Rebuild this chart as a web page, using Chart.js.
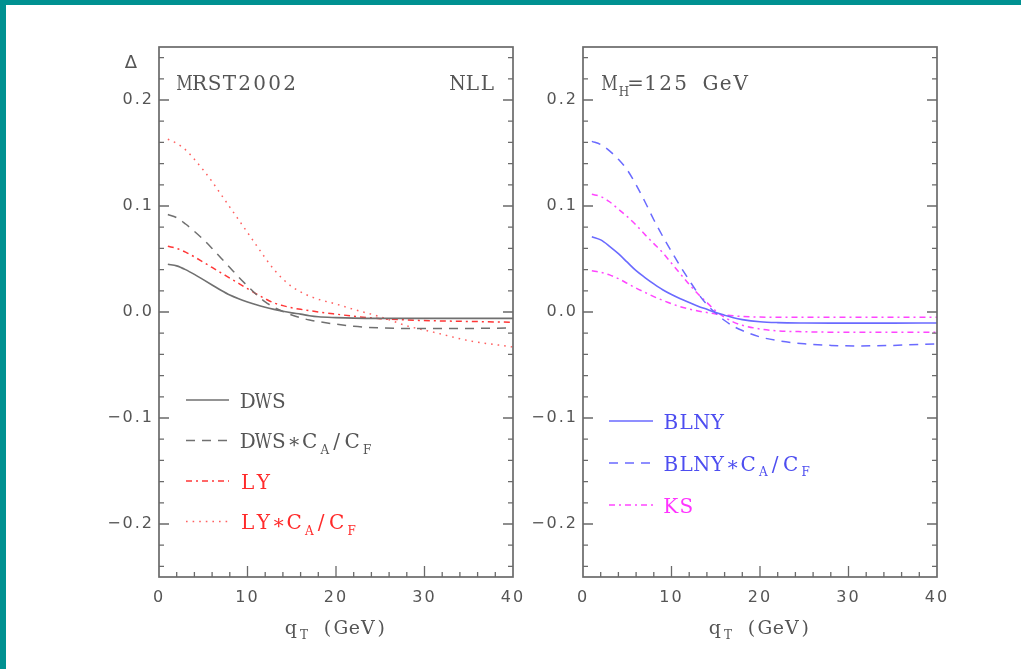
<!DOCTYPE html>
<html>
<head>
<meta charset="utf-8">
<script src="https://cdn.jsdelivr.net/npm/chart.js@4.4.1/dist/chart.umd.min.js"></script>
<style>
  html, body { margin: 0; padding: 0; background: #fff; }
  body { width: 1021px; height: 669px; position: relative; overflow: hidden; }
  .edge { position: absolute; left: 0; top: 0; width: 1021px; height: 669px; box-sizing: border-box;
          border-top: 5px solid #009191; border-left: 6px solid #009191; pointer-events: none; z-index: 2; }
  canvas { position: absolute; top: 0; }
  #left { left: 0; }
  #right { left: 527px; }
</style>
</head>
<body>
<div class="edge"></div>
<canvas id="left" width="527" height="669"></canvas>
<canvas id="right" width="494" height="669"></canvas>
<script>
// q_T sampling points (GeV), shared by every curve
const qT = [1, 2, 3, 4, 5, 6, 7, 8, 9, 10, 11, 12, 13, 14, 15, 16, 17, 18, 20, 22, 25, 28, 31, 35, 40];

// left panel: MRST2002, NLL
const dws      = [0.045, 0.0435, 0.040, 0.0355, 0.0305, 0.0255, 0.0205, 0.016, 0.0125, 0.0095, 0.0068, 0.0045, 0.0025, 0.0007, -0.0008, -0.002, -0.0035, -0.0045, -0.0053, -0.0058, -0.006, -0.006, -0.006, -0.006, -0.006];
const dwsCaCf  = [0.092, 0.089, 0.083, 0.076, 0.0685, 0.060, 0.051, 0.042, 0.033, 0.0245, 0.0165, 0.0095, 0.0045, 0.0005, -0.0028, -0.0055, -0.0075, -0.009, -0.0115, -0.0135, -0.015, -0.0155, -0.0155, -0.0155, -0.015];
const ly       = [0.062, 0.060, 0.0565, 0.052, 0.047, 0.042, 0.037, 0.032, 0.027, 0.022, 0.017, 0.0125, 0.0085, 0.006, 0.004, 0.0025, 0.0013, 0.0001, -0.002, -0.004, -0.0063, -0.0075, -0.0083, -0.0089, -0.0097];
const lyCaCf   = [0.163, 0.159, 0.153, 0.144, 0.134, 0.123, 0.111, 0.099, 0.087, 0.075, 0.063, 0.051, 0.040, 0.031, 0.024, 0.019, 0.015, 0.012, 0.0075, 0.0025, -0.0045, -0.013, -0.019, -0.027, -0.033];

// right panel: M_H = 125 GeV
const blny     = [0.071, 0.068, 0.062, 0.055, 0.047, 0.039, 0.0325, 0.0265, 0.021, 0.0165, 0.0125, 0.009, 0.0055, 0.0025, -0.0005, -0.003, -0.0055, -0.0072, -0.0092, -0.010, -0.0104, -0.0105, -0.0105, -0.0105, -0.0104];
const blnyCaCf = [0.161, 0.158, 0.152, 0.144, 0.134, 0.120, 0.104, 0.087, 0.0715, 0.057, 0.043, 0.030, 0.0175, 0.007, -0.001, -0.008, -0.0135, -0.0175, -0.0235, -0.027, -0.030, -0.0315, -0.032, -0.0315, -0.030];
const ks       = [0.039, 0.0375, 0.035, 0.0315, 0.027, 0.0225, 0.0185, 0.0145, 0.011, 0.0078, 0.005, 0.0028, 0.001, -0.0005, -0.0018, -0.0028, -0.0036, -0.0042, -0.0048, -0.005, -0.005, -0.005, -0.005, -0.005, -0.005];
const ksCaCf   = [0.111, 0.109, 0.104, 0.097, 0.090, 0.082, 0.073, 0.0645, 0.056, 0.046, 0.036, 0.026, 0.017, 0.009, 0.001, -0.005, -0.0095, -0.0125, -0.016, -0.0178, -0.0186, -0.019, -0.019, -0.019, -0.019];

const xTicks = [0, 10, 20, 30, 40];
const yTicks = [-0.2, -0.1, 0.0, 0.1, 0.2];

// minor tick values every 0.02 between the axis ends
const yMinor = [];
for (let k = -12; k <= 12; k++) yMinor.push(Math.round(k * 2) / 100);

const SERIF = "'DejaVu Serif', serif";
const AXIS = '#6a6a6a';
const TEXT = '#555555';
const GRAY = '#707070';
const RED = '#ff3636';
const RED_DOT = '#ff6060';
const BLUE = '#6a6aff';
const MAGENTA = '#ff45ff';

const SOLID = [];
const DASH = [9, 7];
const DASHDOT = [6, 4, 2, 4];
const DOT = [1.6, 5];

const pts = ys => qT.map((x, i) => ({ x, y: ys[i] }));
const line = (ys, color, dash, width) => ({
    data: pts(ys), borderColor: color, borderDash: dash, borderWidth: width || 1.5, fill: false
});

// typewriter-style text: every glyph sits in a fixed-width cell;
// strings are normal text, one-element arrays are subscripts
function drawRich(ctx, parts, x, y, size, pitch, align) {
    const items = [];
    parts.forEach(p => {
        const sub = Array.isArray(p);
        for (const ch of (sub ? p[0] : p)) items.push({ ch, sub });
    });
    const cell = it => it.sub ? pitch * 0.74 : pitch;
    const total = items.reduce((w, it) => w + cell(it), 0);
    let cx = align === 'right' ? x - total : align === 'center' ? x - total / 2 : x;
    ctx.letterSpacing = '0px';
    ctx.textAlign = 'center';
    ctx.textBaseline = 'alphabetic';
    items.forEach(it => {
        const w = cell(it);
        if (it.ch !== ' ') {
            ctx.font = `${it.sub ? Math.round(size * 0.62) : size}px ${SERIF}`;
            const gw = ctx.measureText(it.ch).width;
            const sx = gw > w * 1.1 ? (w * 1.1) / gw : 1;
            ctx.save();
            ctx.translate(cx + w / 2 + (it.sub ? 1.5 : 0), it.sub ? y + size * 0.28 : y);
            ctx.scale(sx, 1);
            ctx.fillText(it.ch, 0, 0);
            ctx.restore();
        }
        cx += w;
    });
}

const isMajorY = v => yTicks.some(t => Math.abs(t - v) < 1e-6);
const fmtY = v => {
    const r = Math.round(v * 10) / 10;
    return r < 0 ? '\u2212' + Math.abs(r).toFixed(1) : r.toFixed(1);
};

const panelPlugin = {
    id: 'panel',
    beforeDraw(chart) {
        chart.ctx.letterSpacing = '2px';
    },
    afterDatasetsDraw(chart, args, opts) {
        const { ctx, chartArea: a, scales: { x, y } } = chart;
        ctx.save();
        ctx.setLineDash([]);
        ctx.strokeStyle = AXIS;
        ctx.lineWidth = 1.7;
        ctx.strokeRect(a.left, a.top, a.width, a.height);

        // inward tick marks, long at labelled values
        ctx.lineWidth = 1.3;
        ctx.beginPath();
        x.ticks.forEach(t => {
            if (t.value <= x.min || t.value >= x.max) return;
            const px = x.getPixelForValue(t.value);
            const len = xTicks.includes(t.value) ? 11 : 5;
            ctx.moveTo(px, a.bottom);
            ctx.lineTo(px, a.bottom - len);
        });
        y.ticks.forEach(t => {
            if (t.value <= y.min + 1e-9 || t.value >= y.max - 1e-9) return;
            const py = y.getPixelForValue(t.value);
            const len = isMajorY(t.value) ? 10 : 5;
            ctx.moveTo(a.left, py);
            ctx.lineTo(a.left + len, py);
            ctx.moveTo(a.right, py);
            ctx.lineTo(a.right - len, py);
        });
        ctx.stroke();

        // notes in the upper corners
        ctx.fillStyle = TEXT;
        (opts.notes || []).forEach(n => drawRich(ctx, n.parts, n.right ? a.right - n.dx : a.left + n.dx, a.top + 43, 20, 15, n.right ? 'right' : 'left'));

        if (opts.delta) {
            ctx.letterSpacing = '0px';
            ctx.font = "18px 'DejaVu Sans'";
            ctx.textAlign = 'center';
            ctx.textBaseline = 'alphabetic';
            ctx.fillText('\u0394', a.left - 28, a.top + 21);
        }

        // axis title q_T (GeV)
        ctx.fillStyle = TEXT;
        drawRich(ctx, ['q', ['T'], ' (GeV)'], (a.left + a.right) / 2, 634, 19, 13.4, 'center');

        // legend
        const lg = opts.legend;
        lg.items.forEach((it, i) => {
            const yy = a.top + lg.y0 + i * lg.dy;
            ctx.strokeStyle = it.color;
            ctx.lineWidth = it.width || 1.5;
            ctx.setLineDash(it.dash);
            ctx.beginPath();
            ctx.moveTo(a.left + lg.x0, yy);
            ctx.lineTo(a.left + lg.x1, yy);
            ctx.stroke();
            ctx.fillStyle = it.text;
            drawRich(ctx, it.parts, a.left + lg.tx, yy + 7.5, 20, 15.5, 'left');
        });
        ctx.restore();
    }
};

function makePanel(id, datasets, panel, yWidth, rightPad) {
    const tickFont = { family: 'DejaVu Sans', size: 16 };
    return new Chart(document.getElementById(id), {
        type: 'line',
        data: { datasets },
        options: {
            responsive: false,
            animation: false,
            devicePixelRatio: 1,
            layout: { padding: { top: 47, right: rightPad, left: 0, bottom: 0 } },
            elements: { point: { radius: 0 }, line: { tension: 0.4, cubicInterpolationMode: 'monotone' } },
            plugins: { legend: { display: false }, tooltip: { enabled: false }, panel },
            scales: {
                x: {
                    type: 'linear', min: 0, max: 40,
                    grid: { display: false, drawTicks: false },
                    border: { display: false },
                    ticks: {
                        stepSize: 2, autoSkip: false, maxRotation: 0, padding: 11,
                        color: TEXT, font: tickFont,
                        callback: v => xTicks.includes(v) ? String(v) : ''
                    },
                    afterFit: s => { s.height = 92; s.paddingLeft = 0; s.paddingRight = 0; }
                },
                y: {
                    type: 'linear', min: -0.25, max: 0.25,
                    grid: { display: false, drawTicks: false },
                    border: { display: false },
                    afterBuildTicks: s => { s.ticks = yMinor.map(v => ({ value: v })); },
                    ticks: {
                        autoSkip: false, padding: 5,
                        color: TEXT, font: tickFont,
                        callback: v => isMajorY(v) ? fmtY(v) : ''
                    },
                    afterFit: s => { s.width = yWidth; s.paddingTop = 0; s.paddingBottom = 0; }
                }
            }
        },
        plugins: [panelPlugin]
    });
}

makePanel('left', [
    line(dws, GRAY, SOLID, 1.6),
    line(dwsCaCf, GRAY, DASH),
    line(ly, RED, DASHDOT),
    line(lyCaCf, RED_DOT, DOT)
], {
    delta: true,
    notes: [
        { parts: ['MRST2002'], dx: 18 },
        { parts: ['NLL'], dx: 18, right: true }
    ],
    legend: {
        x0: 27, x1: 70, tx: 81, y0: 353, dy: 40.5,
        items: [
            { parts: ['DWS'], color: GRAY, text: TEXT, dash: SOLID, width: 1.6 },
            { parts: ['DWS\u2217C', ['A'], '/C', ['F']], color: GRAY, text: TEXT, dash: DASH },
            { parts: ['LY'], color: RED, text: '#ff2a2a', dash: DASHDOT },
            { parts: ['LY\u2217C', ['A'], '/C', ['F']], color: RED_DOT, text: '#ff2a2a', dash: DOT }
        ]
    }
}, 159, 14);

makePanel('right', [
    line(blny, BLUE, SOLID, 1.6),
    line(blnyCaCf, BLUE, DASH),
    line(ks, MAGENTA, DASHDOT),
    line(ksCaCf, MAGENTA, DASHDOT)
], {
    delta: false,
    notes: [
        { parts: ['M', ['H'], '=125 GeV'], dx: 19 }
    ],
    legend: {
        x0: 26, x1: 70, tx: 80, y0: 374, dy: 42,
        items: [
            { parts: ['BLNY'], color: BLUE, text: '#4d4df0', dash: SOLID, width: 1.6 },
            { parts: ['BLNY\u2217C', ['A'], '/C', ['F']], color: BLUE, text: '#4d4df0', dash: DASH },
            { parts: ['KS'], color: MAGENTA, text: '#ff33ff', dash: DASHDOT }
        ]
    }
}, 56, 84);
</script>
</body>
</html>
